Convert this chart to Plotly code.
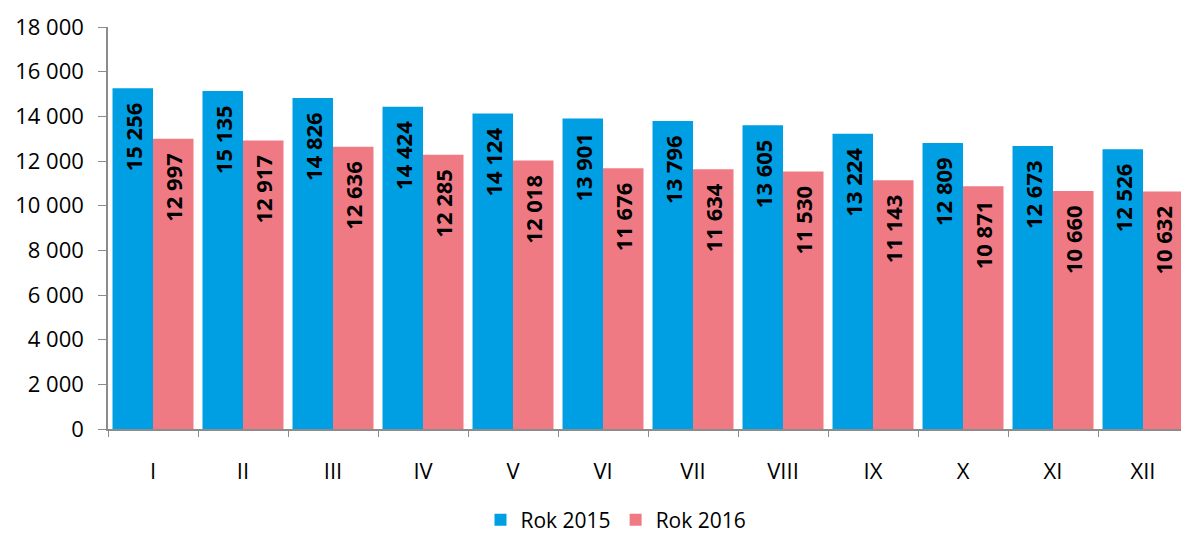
import plotly.graph_objects as go

months = ["I", "II", "III", "IV", "V", "VI", "VII", "VIII", "IX", "X", "XI", "XII"]
rok_2015 = [15256, 15135, 14826, 14424, 14124, 13901, 13796, 13605, 13224, 12809, 12673, 12526]
rok_2016 = [12997, 12917, 12636, 12285, 12018, 11676, 11634, 11530, 11143, 10871, 10660, 10632]
y_ticks = list(range(0, 18001, 2000))

FONT = "Open Sans"

fig = go.Figure()
for name, vals, color in [("Rok 2015", rok_2015, "#009FE3"), ("Rok 2016", rok_2016, "#F07A84")]:
    fig.add_trace(go.Bar(
        x=months, y=vals, name=name,
        marker=dict(color=color, line=dict(width=0)),
        texttemplate="%{y:,}\u00a0\u00a0", textposition="inside", insidetextanchor="end",
        textangle=-90, constraintext="none",
        textfont=dict(family=FONT, size=22, color="black", weight="bold"),
    ))

fig.update_layout(
    width=1181, height=536,
    margin=dict(l=108, r=0, t=27, b=107, autoexpand=False),
    barmode="group", bargap=0.1, bargroupgap=0,
    separators=". ",
    plot_bgcolor="white", paper_bgcolor="white",
    font=dict(family=FONT, size=22, color="black"),
    legend=dict(orientation="h", xref="container", x=616 / 1181, xanchor="center",
                yref="container", y=16 / 536, yanchor="middle",
                font=dict(size=21), itemwidth=30, traceorder="normal"),
    xaxis=dict(range=[-0.5, 11.422], showline=True, linecolor="#8c8c8c", linewidth=1.5,
               ticks="outside", tickson="boundaries", ticklen=6, tickcolor="#8c8c8c",
               ticklabelstandoff=22, tickfont=dict(size=22), automargin=False),
    yaxis=dict(range=[0, 18000], tickvals=y_ticks, tickformat=",", showgrid=False,
               showline=True, linecolor="#8c8c8c", linewidth=1.5, ticks="outside",
               ticklen=8, tickcolor="#8c8c8c", zeroline=False, tickfont=dict(size=22),
               ticklabelstandoff=10, automargin=False),
)

fig.write_html("out.html", config={"displayModeBar": False},
               post_script="document.body.style.margin='0';document.body.style.overflow='hidden';")
